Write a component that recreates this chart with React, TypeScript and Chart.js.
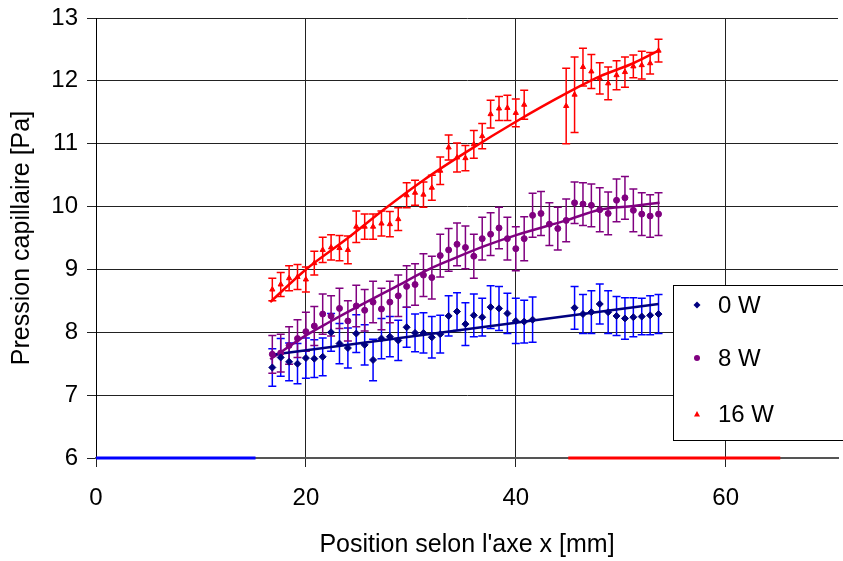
import React, { useEffect, useRef } from 'react';
import { Chart, registerables } from 'chart.js';

Chart.register(...registerables);

// Positions along x [mm]
const positions = [16.8, 17.6, 18.4, 19.2, 20.0, 20.8, 21.6, 22.4, 23.2, 24.0, 24.8, 25.6, 26.4, 27.2, 28.0, 28.8, 29.6, 30.4, 31.2, 32.0, 32.8, 33.6, 34.4, 35.2, 36.0, 36.8, 37.6, 38.4, 39.2, 40.0, 40.8, 41.6, 42.4, 43.2, 44.0, 44.8, 45.6, 46.4, 47.2, 48.0, 48.8, 49.6, 50.4, 51.2, 52.0, 52.8, 53.6];

// 0 W
const values0W = [7.44, 7.60, 7.53, 7.50, 7.59, 7.58, 7.61, 8.00, 7.82, 7.75, 7.98, 7.80, 7.56, 7.90, 7.93, 7.87, 8.08, 7.99, 7.99, 7.92, 7.97, 8.26, 8.33, 8.13, 8.27, 8.24, 8.40, 8.38, 8.30, 8.18, 8.17, 8.20, null, null, null, null, 8.39, 8.29, 8.32, 8.45, 8.32, 8.26, 8.22, 8.24, 8.25, 8.27, 8.29];
const errors0W = [0.30, 0.30, 0.30, 0.32, 0.32, 0.30, 0.30, 0.30, 0.32, 0.32, 0.30, 0.32, 0.33, 0.32, 0.32, 0.32, 0.32, 0.30, 0.32, 0.33, 0.30, 0.32, 0.30, 0.34, 0.34, 0.30, 0.34, 0.35, 0.32, 0.36, 0.34, 0.36, null, null, null, null, 0.34, 0.31, 0.34, 0.32, 0.34, 0.31, 0.33, 0.31, 0.29, 0.31, 0.31];

// 8 W
const values8W = [7.65, 7.67, 7.79, 7.90, 8.01, 8.10, 8.29, 8.26, 8.38, 8.18, 8.42, 8.35, 8.48, 8.37, 8.48, 8.58, 8.73, 8.76, 8.91, 8.87, 9.22, 9.31, 9.40, 9.35, 9.21, 9.49, 9.56, 9.66, 9.49, 9.33, 9.49, 9.86, 9.89, 9.72, 9.65, 9.78, 10.06, 10.04, 10.02, 9.95, 9.89, 10.10, 10.14, 9.94, 9.88, 9.85, 9.88];
const errors8W = [0.30, 0.30, 0.30, 0.30, 0.31, 0.31, 0.32, 0.32, 0.32, 0.32, 0.33, 0.33, 0.33, 0.33, 0.33, 0.33, 0.33, 0.33, 0.34, 0.34, 0.34, 0.34, 0.34, 0.34, 0.35, 0.34, 0.34, 0.33, 0.34, 0.35, 0.35, 0.35, 0.35, 0.34, 0.34, 0.34, 0.33, 0.34, 0.34, 0.35, 0.34, 0.34, 0.34, 0.34, 0.34, 0.34, 0.34];

// 16 W
const values16W = [8.68, 8.76, 8.86, 8.88, 8.84, 9.10, 9.31, 9.35, 9.34, 9.31, 9.68, 9.68, 9.68, 9.73, 9.72, 9.80, 10.18, 10.22, 10.19, 10.30, 10.57, 10.94, 10.78, 10.77, 10.99, 11.12, 11.47, 11.56, 11.57, 11.49, 11.62, null, null, null, null, 11.60, 11.78, 12.22, 12.15, 12.04, 11.96, 12.09, 12.14, 12.23, 12.25, 12.28, 12.48];
const errors16W = [0.18, 0.19, 0.20, 0.20, 0.20, 0.19, 0.20, 0.20, 0.20, 0.22, 0.25, 0.20, 0.20, 0.20, 0.20, 0.18, 0.20, 0.20, 0.20, 0.20, 0.22, 0.20, 0.23, 0.20, 0.22, 0.20, 0.22, 0.19, 0.20, 0.22, 0.23, null, null, null, null, 0.60, 0.60, 0.30, 0.27, 0.25, 0.26, 0.23, 0.24, 0.18, 0.22, 0.17, 0.18];

// Trend lines
const trend0WX = [16.6, 53.6];
const trend0WY = [7.64, 8.45];
const trend8WX = [16.6, 20.0, 22.2, 25.3, 28.5, 31.7, 33.9, 37.0, 40.1, 44.8, 48.0, 51.2, 53.7];
const trend8WY = [7.57, 7.95, 8.16, 8.44, 8.72, 9.00, 9.16, 9.37, 9.55, 9.78, 9.95, 10.01, 10.06];
const trend16WX = [16.6, 20.0, 24.0, 27.4, 31.2, 35.3, 40.0, 44.8, 48.0, 51.2, 53.6];
const trend16WY = [8.48, 9.00, 9.50, 9.95, 10.42, 10.87, 11.35, 11.80, 12.07, 12.28, 12.48];

// Horizontal segments at y = 6
const blueSegX = [0, 15.2];
const redSegX = [45, 65.2];
const segY = 6;

const xTicks = [0, 20, 40, 60];
const yTicks = [6, 7, 8, 9, 10, 11, 12, 13];

const legendLabels = ['0 W', '8 W', '16 W'];

const FONT = "'Liberation Sans', Arial, sans-serif";

const toPoints = (xs: number[], ys: (number | null)[]) =>
  xs.map((x, i) => ({ x, y: ys[i] })).filter((p) => p.y !== null) as { x: number; y: number }[];

const errorSeries = [
  { values: values0W, errors: errors0W, color: '#0000FF' },
  { values: values8W, errors: errors8W, color: '#800080' },
  { values: values16W, errors: errors16W, color: '#FF0000' },
];

const errorBarPlugin = {
  id: 'errorBars',
  beforeDatasetsDraw(chart: any) {
    const { ctx, chartArea, scales } = chart;
    const xs = scales.x;
    const ys = scales.y;
    ctx.save();
    ctx.beginPath();
    ctx.rect(chartArea.left, chartArea.top, chartArea.right - chartArea.left, chartArea.bottom - chartArea.top);
    ctx.clip();
    ctx.lineWidth = 1.5;
    errorSeries.forEach((s) => {
      ctx.strokeStyle = s.color;
      s.values.forEach((v, i) => {
        const e = s.errors[i];
        if (v === null || e === null) return;
        const px = xs.getPixelForValue(positions[i]);
        const top = ys.getPixelForValue(v + e);
        const bot = ys.getPixelForValue(v - e);
        ctx.beginPath();
        ctx.moveTo(px, top);
        ctx.lineTo(px, bot);
        ctx.moveTo(px - 4, top);
        ctx.lineTo(px + 4, top);
        ctx.moveTo(px - 4, bot);
        ctx.lineTo(px + 4, bot);
        ctx.stroke();
      });
    });
    ctx.restore();
  },
};

const legendPlugin = {
  id: 'customLegend',
  afterDraw(chart: any) {
    const { ctx } = chart;
    ctx.save();
    ctx.fillStyle = '#FFFFFF';
    ctx.fillRect(673.5, 285.5, 200, 155);
    ctx.strokeStyle = '#000000';
    ctx.lineWidth = 1;
    ctx.strokeRect(673.5, 285.5, 200, 155);
    const rows = [305, 358, 414];
    const mx = 697;
    // diamond
    ctx.fillStyle = '#000080';
    ctx.beginPath();
    ctx.moveTo(mx, rows[0] - 3.5);
    ctx.lineTo(mx + 3.5, rows[0]);
    ctx.lineTo(mx, rows[0] + 3.5);
    ctx.lineTo(mx - 3.5, rows[0]);
    ctx.closePath();
    ctx.fill();
    // circle
    ctx.fillStyle = '#800080';
    ctx.beginPath();
    ctx.arc(mx, rows[1], 3, 0, Math.PI * 2);
    ctx.fill();
    // triangle
    ctx.fillStyle = '#FF0000';
    ctx.beginPath();
    ctx.moveTo(mx, rows[2] - 3);
    ctx.lineTo(mx + 3, rows[2] + 2.5);
    ctx.lineTo(mx - 3, rows[2] + 2.5);
    ctx.closePath();
    ctx.fill();
    ctx.fillStyle = '#000000';
    ctx.font = `24px ${FONT}`;
    ctx.textAlign = 'left';
    ctx.textBaseline = 'middle';
    legendLabels.forEach((t, i) => ctx.fillText(t, 718, rows[i] + 1));
    ctx.restore();
  },
};

export default function App() {
  const ref = useRef<HTMLCanvasElement | null>(null);

  useEffect(() => {
    document.body.style.margin = '0';
    if (!ref.current) return;
    const chart = new Chart(ref.current, {
      type: 'scatter',
      data: {
        datasets: [
          {
            label: legendLabels[0],
            data: toPoints(positions, values0W),
            pointStyle: 'rectRot',
            pointRadius: 3.5,
            backgroundColor: '#000080',
            borderColor: '#000080',
            borderWidth: 1,
            showLine: false,
          },
          {
            label: legendLabels[1],
            data: toPoints(positions, values8W),
            pointStyle: 'circle',
            pointRadius: 3,
            backgroundColor: '#800080',
            borderColor: '#800080',
            borderWidth: 1,
            showLine: false,
          },
          {
            label: legendLabels[2],
            data: toPoints(positions, values16W),
            pointStyle: 'triangle',
            pointRadius: 3,
            backgroundColor: '#FF0000',
            borderColor: '#FF0000',
            borderWidth: 1,
            showLine: false,
          },
          {
            label: 'trend 0 W',
            data: toPoints(trend0WX, trend0WY),
            showLine: true,
            pointRadius: 0,
            borderColor: '#000080',
            borderWidth: 2.5,
          },
          {
            label: 'trend 8 W',
            data: toPoints(trend8WX, trend8WY),
            showLine: true,
            pointRadius: 0,
            borderColor: '#800080',
            borderWidth: 2.5,
            cubicInterpolationMode: 'monotone',
          },
          {
            label: 'trend 16 W',
            data: toPoints(trend16WX, trend16WY),
            showLine: true,
            pointRadius: 0,
            borderColor: '#FF0000',
            borderWidth: 2.5,
            cubicInterpolationMode: 'monotone',
          },
          {
            label: 'seg blue',
            data: blueSegX.map((x) => ({ x, y: segY })),
            showLine: true,
            pointRadius: 0,
            borderColor: '#0000FF',
            borderWidth: 3,
            clip: false,
          },
          {
            label: 'seg red',
            data: redSegX.map((x) => ({ x, y: segY })),
            showLine: true,
            pointRadius: 0,
            borderColor: '#FF0000',
            borderWidth: 3,
            clip: false,
          },
        ] as any,
      },
      options: {
        animation: false,
        responsive: false,
        devicePixelRatio: 1,
        events: [],
        layout: { padding: { top: 18, right: 0, left: 0, bottom: 0 } },
        plugins: {
          legend: { display: false },
          tooltip: { enabled: false },
        },
        scales: {
          x: {
            type: 'linear',
            min: 0,
            max: 70.7,
            afterBuildTicks: (scale: any) => {
              scale.ticks = xTicks.map((v) => ({ value: v }));
            },
            afterFit: (scale: any) => {
              scale.height = 103;
              scale.paddingLeft = 0;
              scale.paddingRight = 0;
            },
            ticks: {
              color: '#000',
              font: { family: FONT, size: 24 },
              padding: 17,
              maxRotation: 0,
            },
            grid: {
              color: '#222',
              lineWidth: 1,
              tickLength: 9,
              tickColor: '#222',
            },
            border: { color: '#555', width: 2 },
            title: {
              display: true,
              text: "Position selon l'axe x [mm]",
              color: '#000',
              font: { family: FONT, size: 25 },
              padding: { top: 0, bottom: 1 },
            },
          },
          y: {
            type: 'linear',
            min: 6,
            max: 13,
            afterBuildTicks: (scale: any) => {
              scale.ticks = yTicks.map((v) => ({ value: v }));
            },
            afterFit: (scale: any) => {
              scale.width = 96;
              scale.paddingTop = 0;
              scale.paddingBottom = 0;
            },
            ticks: {
              color: '#000',
              font: { family: FONT, size: 24 },
              padding: 9,
            },
            grid: {
              color: '#222',
              lineWidth: 1,
              tickLength: 9,
              tickColor: '#222',
            },
            border: { color: '#000', width: 1 },
            title: {
              display: true,
              text: 'Pression capillaire [Pa]',
              color: '#000',
              font: { family: FONT, size: 25 },
              padding: { top: 7, bottom: 0 },
            },
          },
        },
      } as any,
      plugins: [errorBarPlugin, legendPlugin],
    });
    return () => chart.destroy();
  }, []);

  return (
    <div style={{ width: 843, height: 561 }}>
      <canvas ref={ref} width={843} height={561} style={{ display: 'block' }} />
    </div>
  );
}
